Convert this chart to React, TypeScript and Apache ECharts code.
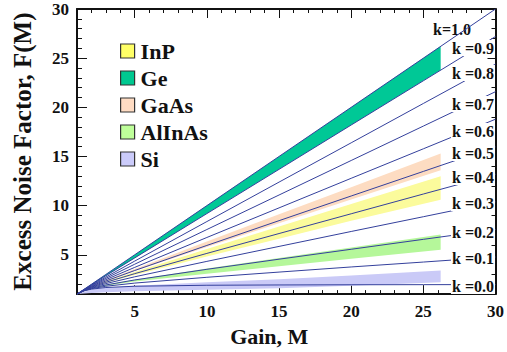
import React, { useEffect, useRef } from "react";
import * as echarts from "echarts";

// Gain points for the k curves
const gainK = [1, 1.5, 2, 3, 5, 10, 15, 20, 25, 30];
const kNames = ["k=0.0", "k=0.1", "k=0.2", "k=0.3", "k=0.4", "k=0.5", "k=0.6", "k=0.7", "k=0.8", "k=0.9", "k=1.0"];
const k00 = [1, 1.33, 1.5, 1.67, 1.8, 1.9, 1.93, 1.95, 1.96, 1.97];
const k01 = [1, 1.35, 1.55, 1.8, 2.12, 2.71, 3.24, 3.76, 4.26, 4.77];
const k02 = [1, 1.37, 1.6, 1.93, 2.44, 3.52, 4.55, 5.56, 6.57, 7.57];
const k03 = [1, 1.38, 1.65, 2.07, 2.76, 4.33, 5.85, 7.37, 8.87, 10.38];
const k04 = [1, 1.4, 1.7, 2.2, 3.08, 5.14, 7.16, 9.17, 11.18, 13.18];
const k05 = [1, 1.42, 1.75, 2.33, 3.4, 5.95, 8.47, 10.98, 13.48, 15.98];
const k06 = [1, 1.43, 1.8, 2.47, 3.72, 6.76, 9.77, 12.78, 15.78, 18.79];
const k07 = [1, 1.45, 1.85, 2.6, 4.04, 7.57, 11.08, 14.59, 18.09, 21.59];
const k08 = [1, 1.47, 1.9, 2.73, 4.36, 8.38, 12.39, 16.39, 20.39, 24.39];
const k09 = [1, 1.48, 1.95, 2.87, 4.68, 9.19, 13.69, 18.2, 22.7, 27.2];
const k10 = [1, 1.5, 2, 3, 5, 10, 15, 20, 25, 30];
const kSeries = [k00, k01, k02, k03, k04, k05, k06, k07, k08, k09, k10];

// Material bands
const gainBand = [1, 1.5, 2, 3, 5, 10, 15, 20, 26.2];
const geUpper = [1, 1.5, 2, 3, 5, 10, 15, 20, 26.2];
const geLower = [1, 1.48, 1.95, 2.87, 4.68, 9.19, 13.69, 18.2, 23.8];
const gaasUpper = [1, 1.43, 1.78, 2.4, 3.56, 6.36, 9.12, 11.88, 15.3];
const gaasLower = [1, 1.41, 1.74, 2.31, 3.34, 5.79, 8.21, 10.61, 13.6];
const inpUpper = [1, 1.41, 1.73, 2.27, 3.26, 5.59, 7.88, 10.16, 13.0];
const inpLower = [1, 1.39, 1.68, 2.15, 2.95, 4.82, 6.64, 8.45, 10.6];
const alinasUpper = [1, 1.37, 1.61, 1.95, 2.47, 3.6, 4.68, 5.74, 7.05];
const alinasLower = [1, 1.36, 1.57, 1.86, 2.27, 3.08, 3.84, 4.59, 5.5];
const siUpper = [1, 1.25, 1.45, 1.65, 1.85, 2.2, 2.5, 2.9, 3.4];
const siLower = [1, 1.05, 1.1, 1.2, 1.3, 1.45, 1.6, 1.85, 2.2];

const xLabelValues = [5, 10, 15, 20, 25, 30];
const yLabelValues = [5, 10, 15, 20, 25, 30];
const majorTicks = [5, 10, 15, 20, 25];

const FONT = "'Liberation Serif', 'Times New Roman', serif";

const bands = [
  { name: "InP", upper: inpUpper, lower: inpLower, fill: "#fbfb9c", legend: "#ffff66" },
  { name: "Ge", upper: geUpper, lower: geLower, fill: "#00c896", legend: "#00c890" },
  { name: "GaAs", upper: gaasUpper, lower: gaasLower, fill: "#fddcc2", legend: "#ffdcc3" },
  { name: "AlInAs", upper: alinasUpper, lower: alinasLower, fill: "#b5f79a", legend: "#bfff9a" },
  { name: "Si", upper: siUpper, lower: siLower, fill: "#cacaf7", legend: "#cbcbfa" },
];

// label placement (pixels) for the k labels
const kLabelY = [287, 259, 233, 204, 178, 154, 132, 105, 74, 49];

export default function App() {
  const ref = useRef<HTMLDivElement>(null);
  useEffect(() => {
    if (!ref.current) return;
    const chart = echarts.init(ref.current, null, { renderer: "svg" });

    const bandSeries = bands.map((b) => ({
      type: "custom",
      name: b.name,
      xAxisIndex: 0,
      yAxisIndex: 0,
      z: 1,
      itemStyle: { color: b.legend },
      encode: { x: 0, y: [1, 2] },
      data: gainBand.map((m, i) => [m, b.upper[i], b.lower[i]]),
      renderItem: (params: any, api: any) => {
        if (params.dataIndex !== 0) return null;
        const top = gainBand.map((m, i) => api.coord([m, b.upper[i]]));
        const bot = gainBand.map((m, i) => api.coord([m, b.lower[i]])).reverse();
        return {
          type: "polygon",
          shape: { points: top.concat(bot) },
          style: { fill: b.fill, stroke: null },
        };
      },
    }));

    const lineSeries = kSeries.map((vals, idx) => ({
      type: "line",
      name: kNames[idx],
      xAxisIndex: 0,
      yAxisIndex: 0,
      z: 3,
      symbol: "none",
      smooth: false,
      lineStyle: { color: "#34409c", width: 1 },
      data: gainK.map((m, i) => [m, vals[i]]),
    }));

    const labelFont = { fontFamily: FONT, fontWeight: "bold", fontSize: 16, fill: "#111" };
    const kLabels: any[] = kLabelY.map((y, i) => ({
      type: "text",
      z: 100,
      right: 12,
      top: y - 9,
      style: {
        ...labelFont,
        text: "k =0." + i,
        backgroundColor: "#fff",
        padding: [0, 1, 0, 1],
      },
    }));
    kLabels.push({
      type: "text",
      z: 0,
      left: 433,
      top: 21,
      style: { ...labelFont, text: "k=1.0" },
    });

    const tickStyle = { color: "#111", width: 1 };
    const baseAxis = {
      min: 1,
      max: 30,
      interval: 1,
      splitLine: { show: false },
    };

    const option: any = {
      animation: false,
      backgroundColor: "#fff",
      grid: { left: 77, right: 9, top: 9, bottom: 55, show: false },
      legend: {
        orient: "vertical",
        left: 115,
        top: 35,
        itemWidth: 14,
        itemHeight: 14,
        itemGap: 5,
        icon: "rect",
        textStyle: {
          fontFamily: FONT,
          fontWeight: "bold",
          fontSize: 22,
          color: "#111",
          padding: [0, 0, 0, 1],
        },
        data: bands.map((b) => ({
          name: b.name,
          itemStyle: { color: b.legend, borderColor: "#333", borderWidth: 1.2 },
        })),
      },
      xAxis: [
        {
          ...baseAxis,
          type: "value",
          position: "bottom",
          axisLine: { show: true, onZero: false, lineStyle: { color: "#111", width: 2 } },
          axisTick: { show: true, inside: true, length: 4, lineStyle: tickStyle },
          axisLabel: {
            customValues: xLabelValues,
            fontFamily: FONT,
            fontWeight: "bold",
            fontSize: 17,
            color: "#111",
            margin: 9,
          },
          name: "Gain, M",
          nameLocation: "middle",
          nameGap: 28,
          nameTextStyle: {
            fontFamily: FONT,
            fontWeight: "bold",
            fontSize: 22,
            color: "#111",
            padding: [0, 34, 0, 0],
          },
        },
        {
          ...baseAxis,
          type: "value",
          position: "bottom",
          axisLine: { show: false },
          axisTick: { show: true, inside: true, length: 9, customValues: majorTicks, lineStyle: tickStyle },
          axisLabel: { show: false },
        },
        {
          ...baseAxis,
          type: "value",
          position: "top",
          axisLine: { show: true, onZero: false, lineStyle: { color: "#111", width: 2 } },
          axisTick: { show: true, inside: true, length: 4, lineStyle: tickStyle },
          axisLabel: { show: false },
        },
        {
          ...baseAxis,
          type: "value",
          position: "top",
          axisLine: { show: false },
          axisTick: { show: true, inside: true, length: 9, customValues: majorTicks, lineStyle: tickStyle },
          axisLabel: { show: false },
        },
      ],
      yAxis: [
        {
          ...baseAxis,
          type: "value",
          position: "left",
          axisLine: { show: true, onZero: false, lineStyle: { color: "#111", width: 2 } },
          axisTick: { show: true, inside: true, length: 5, lineStyle: tickStyle },
          axisLabel: {
            customValues: yLabelValues,
            fontFamily: FONT,
            fontWeight: "bold",
            fontSize: 17,
            color: "#111",
            margin: 8,
          },
          name: "Excess Noise Factor, F(M)",
          nameLocation: "middle",
          nameRotate: 90,
          nameGap: 42,
          nameTextStyle: {
            fontFamily: FONT,
            fontWeight: "bold",
            fontSize: 25,
            color: "#111",
          },
        },
        {
          ...baseAxis,
          type: "value",
          position: "left",
          axisLine: { show: false },
          axisTick: { show: true, inside: true, length: 10, customValues: majorTicks, lineStyle: tickStyle },
          axisLabel: { show: false },
        },
        {
          ...baseAxis,
          type: "value",
          position: "right",
          axisLine: { show: true, onZero: false, lineStyle: { color: "#111", width: 2 } },
          axisTick: { show: true, inside: true, length: 4, lineStyle: tickStyle },
          axisLabel: { show: false },
        },
        {
          ...baseAxis,
          type: "value",
          position: "right",
          axisLine: { show: false },
          axisTick: { show: true, inside: true, length: 8, customValues: majorTicks, lineStyle: tickStyle },
          axisLabel: { show: false },
        },
      ],
      series: [...bandSeries, ...lineSeries],
      graphic: kLabels,
    };

    chart.setOption(option);
    return () => chart.dispose();
  }, []);

  return (
    <div
      ref={ref}
      style={{ position: "absolute", left: 0, top: 0, width: 507, height: 352 }}
    />
  );
}
